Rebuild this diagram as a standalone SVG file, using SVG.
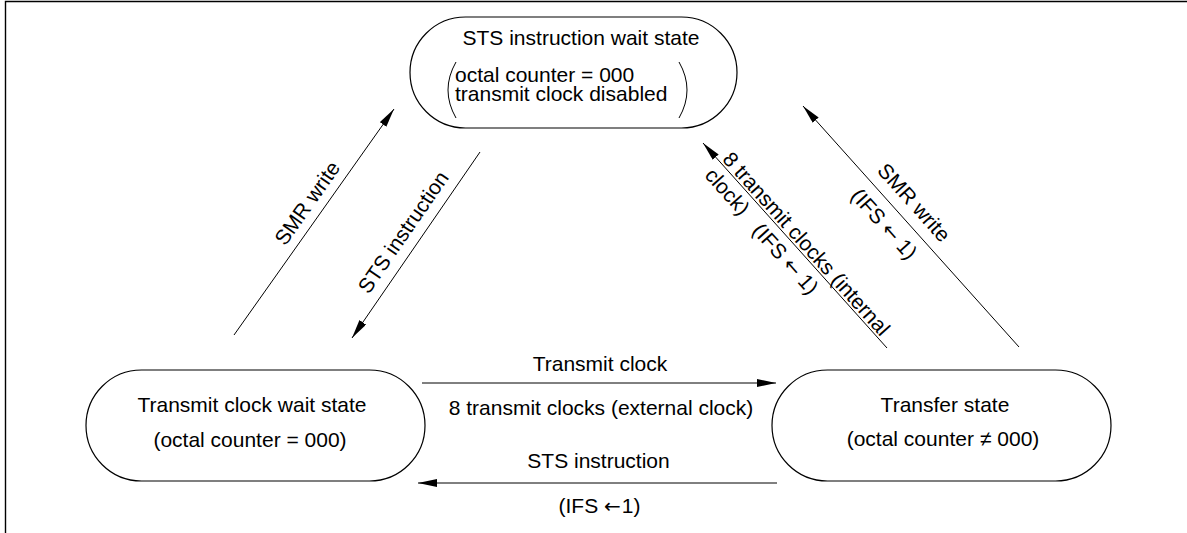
<svg xmlns="http://www.w3.org/2000/svg" width="1187" height="533" viewBox="0 0 1187 533">
<style>
text{font-family:"Liberation Sans",Arial,sans-serif;font-size:21px;fill:#000}
.ar{font-family:"DejaVu Sans",sans-serif;font-size:20px}
.box{fill:#fff;stroke:#000;stroke-width:1.2}
.ln{fill:none;stroke:#000;stroke-width:1}
.mid{text-anchor:middle}
</style>
<defs>
<marker id="ah" markerUnits="userSpaceOnUse" markerWidth="20" markerHeight="10" refX="19" refY="4" orient="auto">
<path d="M0,0 L19,4 L0,8 z" fill="#000"/>
</marker>
</defs>
<rect width="1187" height="533" fill="#fff"/>
<path d="M5.5,533 V1.5 H1187" fill="none" stroke="#000" stroke-width="1.4"/>

<g id="sts-wait">
<rect class="box" x="410" y="17" width="327" height="111" rx="55.5" ry="55.5"/>
<text class="mid" x="581" y="45">STS instruction wait state</text>
<text x="455" y="82">octal counter = 000</text>
<text x="455" y="101">transmit clock disabled</text>
<path class="ln" d="M456,62 Q440,90 456,118"/>
<path class="ln" d="M679,62 Q695,90 679,118"/>
</g>

<g id="clock-wait">
<rect class="box" x="86" y="370" width="339" height="111" rx="55.5" ry="55.5"/>
<text class="mid" x="252" y="412">Transmit clock wait state</text>
<text class="mid" x="250" y="447">(octal counter = 000)</text>
</g>

<g id="transfer">
<rect class="box" x="772" y="370" width="339" height="111" rx="55.5" ry="55.5"/>
<text class="mid" x="945" y="412">Transfer state</text>
<text class="mid" x="943" y="446">(octal counter<tspan dx="6">≠ 000)</tspan></text>
</g>

<g id="connectors">
<path class="ln" d="M234,335 L394,109" marker-end="url(#ah)"/>
<path class="ln" d="M480,152 L352,338" marker-end="url(#ah)"/>
<path class="ln" d="M887,348 L703,143" marker-end="url(#ah)"/>
<path class="ln" d="M1019,347 L803,106" marker-end="url(#ah)"/>
<path class="ln" d="M422,383 L776,383" marker-end="url(#ah)"/>
<path class="ln" d="M777,483 L418,483" marker-end="url(#ah)"/>

<text class="mid" transform="translate(307,203) rotate(-54.7)" x="0" y="7.5">SMR write</text>
<text class="mid" transform="translate(403,232) rotate(-55.5)" x="0" y="7.5">STS instruction</text>
<g transform="translate(703,143) rotate(48.1)">
<text x="25" y="-2.5">8 transmit clocks (internal</text>
<text x="25" y="21.5">clock)</text>
<text x="98" y="23">(IFS <tspan class="ar">←</tspan> 1)</text>
</g>
<g transform="translate(803,106) rotate(48.1)">
<text class="mid" x="146" y="-11">SMR write</text>
<text class="mid" x="142" y="25.5">(IFS <tspan class="ar">←</tspan> 1)</text>
</g>
<text class="mid" x="600" y="371">Transmit clock</text>
<text class="mid" x="601" y="415">8 transmit clocks (external clock)</text>
<text class="mid" x="598.5" y="468">STS instruction</text>
<text class="mid" x="599.5" y="513">(IFS <tspan class="ar">←</tspan><tspan dx="1">1)</tspan></text>
</g>
</svg>
